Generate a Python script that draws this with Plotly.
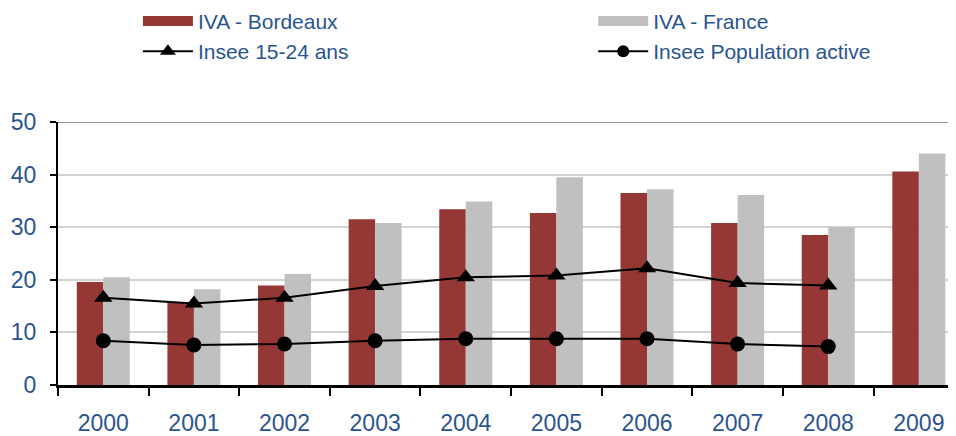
import plotly.graph_objects as go

years = ["2000", "2001", "2002", "2003", "2004", "2005", "2006", "2007", "2008", "2009"]
iva_bordeaux = [19.6, 15.8, 18.9, 31.5, 33.4, 32.7, 36.5, 30.8, 28.5, 40.6]
iva_france = [20.5, 18.2, 21.1, 30.8, 34.9, 39.5, 37.2, 36.1, 30.0, 44.0]
insee_15_24 = [16.6, 15.5, 16.6, 18.8, 20.5, 20.8, 22.2, 19.4, 18.9, None]
insee_pop = [8.4, 7.6, 7.8, 8.4, 8.8, 8.8, 8.8, 7.8, 7.3, None]

RED = "#953735"
GREY = "#C0C0C0"
BLUE = "#2A5490"
FONT = "Liberation Sans"

fig = go.Figure()
fig.add_trace(go.Bar(x=years, y=iva_bordeaux, name="IVA - Bordeaux",
                     marker=dict(color=RED, line=dict(width=0)), showlegend=False))
fig.add_trace(go.Bar(x=years, y=iva_france, name="IVA - France",
                     marker=dict(color=GREY, line=dict(width=0)), showlegend=False))
fig.add_trace(go.Scatter(x=years, y=insee_15_24, name="Insee 15-24 ans", mode="lines+markers",
                         line=dict(color="black", width=2),
                         marker=dict(symbol="triangle-up", size=16, color="black"),
                         showlegend=False))
fig.add_trace(go.Scatter(x=years, y=insee_pop, name="Insee Population active", mode="lines+markers",
                         line=dict(color="black", width=2),
                         marker=dict(symbol="circle", size=15, color="black"),
                         showlegend=False))

# legend-only entries
fig.add_trace(go.Scatter(x=[None], y=[None], name="IVA - Bordeaux", mode="lines",
                         line=dict(color=RED, width=13), legend="legend"))
fig.add_trace(go.Scatter(x=[None], y=[None], name="Insee 15-24 ans", mode="lines+markers",
                         line=dict(color="black", width=2),
                         marker=dict(symbol="triangle-up", size=14, color="black"), legend="legend"))
fig.add_trace(go.Scatter(x=[None], y=[None], name="IVA - France", mode="lines",
                         line=dict(color=GREY, width=13), legend="legend2"))
fig.add_trace(go.Scatter(x=[None], y=[None], name="Insee Population active", mode="lines+markers",
                         line=dict(color="black", width=2),
                         marker=dict(symbol="circle", size=12, color="black"), legend="legend2"))

legend_common = dict(orientation="v", yanchor="top", xanchor="left",
                     font=dict(family=FONT, size=21, color=BLUE),
                     bgcolor="rgba(0,0,0,0)", borderwidth=0, itemwidth=50,
                     tracegroupgap=0, itemclick=False, itemdoubleclick=False)

# page body has an 8px margin, so the figure is drawn 8px smaller and offset
fig.update_layout(
    width=948, height=428,
    margin=dict(l=50, r=0, t=114, b=51, autoexpand=False),
    paper_bgcolor="white", plot_bgcolor="white",
    barmode="group", bargap=0.415, bargroupgap=0,
    font=dict(family=FONT, size=22, color=BLUE),
    legend=dict(x=0.089, y=1.461, **legend_common),
    legend2=dict(x=0.596, y=1.461, **legend_common),
    xaxis=dict(type="category", range=[-0.5, 9.41], showgrid=False,
               showline=True, linecolor="black", linewidth=3,
               ticks="outside", tickson="boundaries", ticklen=8, tickwidth=2, tickcolor="black",
               tickfont=dict(family=FONT, size=23, color=BLUE), ticklabelstandoff=15,
               automargin=False),
    yaxis=dict(range=[0, 50], dtick=10, showgrid=True, gridcolor="#D3D3D3", gridwidth=1.5,
               zeroline=False, showline=True, linecolor="black", linewidth=2,
               ticks="outside", ticklen=6, tickwidth=2, tickcolor="black",
               tickfont=dict(family=FONT, size=23, color=BLUE), ticklabelstandoff=9,
               automargin=False),
    shapes=[dict(type="line", xref="paper", yref="y", x0=0, x1=1, y0=50, y1=50,
                 line=dict(color="#999999", width=2))],
)

fig.write_html("out.html")
